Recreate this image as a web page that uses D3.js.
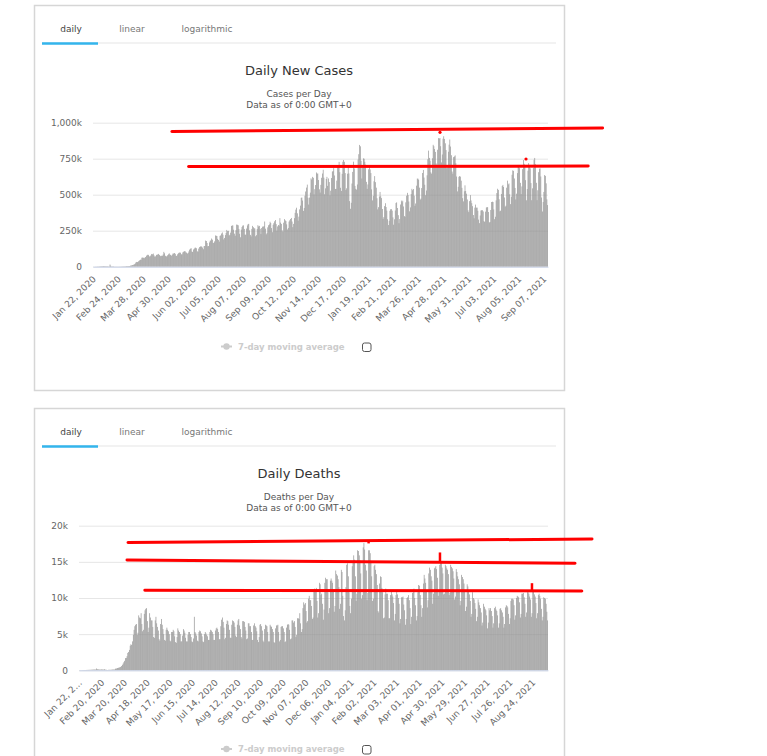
<!DOCTYPE html>
<html>
<head>
<meta charset="utf-8">
<script src="https://cdn.jsdelivr.net/npm/d3@7"></script>
<style>
  body { margin: 0; background: #fff; }
  svg { display: block; font-family: "DejaVu Sans", sans-serif; }
</style>
</head>
<body>
<svg id="chart" width="767" height="756"></svg>
<script>
// daily new cases, thousands (Jan 22 2020 .. Dec 31 2020)
const cases2020 = [
  0.6,0.1,0.3,0.7,0.7,0.8,1.8,1.3,1.8,2.1,
  2.6,2.8,3.2,3.9,3.7,3.2,3.4,2.7,3.0,2.5,2.1,2.0,15.1,6.5,2.1,2.1,2.0,1.9,0.6,0.6,1.0,0.5,0.8,0.6,0.9,0.9,1.2,1.4,1.8,
  1.8,2.0,2.3,2.4,2.8,3.9,3.9,4.0,3.8,4.5,7.5,7.8,10.9,11.7,13.9,16.5,19.7,28.5,33.0,31.9,33.4,40.0,44.3,48.5,48.2,62.5,63.6,62.4,58.8,63.0,67.6,
  76.1,80.4,83.8,80.1,71.3,73.1,79.4,88.5,86.6,91.2,79.2,70.4,72.0,80.9,84.1,84.3,88.9,82.2,76.0,73.1,76.3,75.9,84.7,103.0,93.1,76.0,71.5,71.4,79.5,86.1,
  92.9,85.3,81.0,76.8,83.3,91.5,91.4,95.0,89.4,76.7,74.5,86.1,93.2,96.7,98.6,97.1,86.1,85.6,99.3,104.3,107.3,107.7,99.9,97.4,91.1,95.3,106.0,118.9,125.1,127.9,105.9,
  102.1,119.5,124.7,131.5,132.2,128.1,107.0,104.0,125.8,136.3,140.1,141.3,139.5,132.7,121.5,143.3,143.7,181.4,178.4,164.8,141.7,143.6,168.8,180.1,182.8,195.6,187.7,164.4,166.5,176.2,
  217.1,214.8,213.3,193.2,185.6,174.2,214.3,217.5,230.4,237.9,222.0,189.5,199.6,219.4,234.6,255.5,247.2,249.2,216.5,221.5,237.2,283.0,285.7,287.0,256.9,229.7,215.1,253.6,292.5,291.2,287.7,
  262.1,228.5,204.5,257.5,275.4,285.1,287.3,262.3,223.6,221.4,265.1,286.3,295.4,297.6,252.3,221.1,210.5,262.5,283.5,274.4,266.7,265.6,211.4,219.2,262.1,288.2,279.8,283.4,262.7,226.6,268.6,
  278.1,277.9,281.7,313.9,264.0,225.2,235.3,273.3,288.1,293.5,312.3,303.5,268.3,239.7,291.0,302.0,315.2,324.1,296.0,250.8,279.9,289.3,285.6,337.2,306.1,297.3,252.3,243.5,305.7,330.6,
  321.9,316.6,294.2,258.8,269.0,313.2,322.2,331.3,338.6,313.6,274.6,297.4,337.1,373.9,396.4,409.7,370.7,319.8,347.6,397.8,424.0,478.3,480.1,459.4,387.6,407.9,492.9,522.4,549.3,570.0,479.0,
  431.9,479.9,514.3,613.6,605.3,623.9,617.4,502.3,538.3,567.0,654.4,645.6,647.3,601.9,537.4,514.7,568.3,617.5,647.1,673.0,618.4,503.0,544.1,609.2,624.0,561.3,612.8,587.7,495.7,527.9,
  615.8,660.8,663.6,685.2,633.4,539.8,540.2,597.9,692.3,697.1,728.0,656.4,548.1,526.2,644.9,728.7,741.1,728.4,650.2,532.4,544.3,645.8,701.3,647.8,455.4,402.3,444.0,577.6,658.5,729.4,682.8
];
// daily new cases, thousands (Jan 1 2021 .. Sep 12 2021)
const cases2021 = [
  561.2,540.5,535.1,571.0,744.2,781.3,845.7,836.1,735.5,612.6,690.2,752.5,749.6,728.5,708.8,589.3,540.7,571.4,676.3,695.8,675.1,650.3,537.2,460.3,492.0,593.4,629.1,587.1,548.9,475.3,398.1,
  413.4,487.0,519.2,489.0,476.5,400.8,331.5,343.9,420.8,440.7,414.5,389.5,329.5,289.3,318.8,388.0,398.9,399.7,389.4,342.7,291.7,329.2,390.4,442.1,446.9,407.7,357.8,301.9,
  331.0,432.0,459.1,448.0,458.3,418.3,351.4,346.6,446.8,493.3,512.9,497.3,452.8,384.7,411.8,504.4,541.0,531.1,539.2,493.1,422.9,439.1,562.6,611.8,611.5,604.1,549.1,466.3,473.3,546.1,650.8,
  672.1,619.0,569.1,496.6,529.1,634.6,746.2,806.1,755.6,736.3,655.4,646.3,753.1,846.5,836.8,817.3,797.3,716.6,696.7,812.2,893.1,889.3,893.7,836.8,724.2,779.1,888.8,905.7,887.2,856.9,
  810.0,684.5,690.6,798.2,847.7,883.1,834.5,774.0,660.7,645.7,761.0,765.6,773.0,718.4,626.2,522.9,554.8,623.9,629.4,625.7,597.4,547.7,476.2,453.7,523.8,565.0,525.9,507.2,466.8,391.4,379.3,
  455.2,497.2,459.9,441.2,420.4,358.8,336.4,410.1,431.3,410.0,410.3,388.4,327.1,302.5,355.6,390.1,392.4,392.5,383.8,316.9,311.2,382.4,410.2,414.6,412.9,379.7,307.1,310.8,393.9,449.3,
  451.6,449.0,397.8,330.0,346.9,460.6,511.5,541.3,533.5,468.2,384.5,389.2,505.2,560.5,568.1,553.6,480.8,416.9,423.8,548.6,597.6,571.8,578.3,503.1,434.6,485.3,638.6,669.0,665.4,612.7,546.9,
  467.0,507.1,650.1,706.5,705.2,684.5,582.3,504.4,557.4,677.4,740.8,714.5,693.3,601.2,461.3,539.4,667.1,719.3,694.2,683.3,580.8,461.7,544.1,684.9,742.7,755.3,711.8,582.7,462.1,530.8,656.3,
  680.2,682.6,626.7,480.4,383.4,449.6,519.4,636.1,630.8,578.9,467.7,428.0
];
// daily deaths, thousands (Jan 22 2020 .. Dec 31 2020)
const deaths2020 = [
  0.02,0.01,0.02,0.01,0.03,0.03,0.03,0.04,0.04,0.05,
  0.05,0.06,0.06,0.07,0.07,0.07,0.09,0.09,0.1,0.11,0.1,0.1,0.25,0.14,0.14,0.11,0.1,0.1,0.12,0.12,0.1,0.1,0.15,0.08,0.08,0.06,0.04,0.06,0.07,
  0.07,0.07,0.08,0.1,0.1,0.11,0.11,0.23,0.2,0.28,0.32,0.35,0.37,0.44,0.47,0.6,0.75,0.93,1.12,1.31,1.69,1.7,1.95,2.4,2.54,2.82,3.4,3.6,3.5,4.0,4.9,
  5.6,6.1,6.3,6.4,4.9,5.2,7.6,7.3,7.2,7.9,6.4,5.4,5.6,7.8,8.3,8.5,8.6,6.8,5.3,5.9,7.9,7.3,6.9,6.9,6.0,4.6,4.5,6.9,7.4,6.5,
  6.0,5.5,4.3,4.1,6.4,7.1,6.3,5.7,5.0,4.2,4.1,5.6,5.9,5.6,5.4,5.0,4.1,4.0,5.3,5.3,5.6,5.4,4.7,3.9,3.8,4.6,5.8,5.5,5.3,5.0,4.0,
  4.0,4.8,5.7,5.5,5.2,4.5,4.0,4.0,4.9,5.3,5.3,5.0,4.6,4.0,3.9,4.4,7.4,5.3,5.1,4.8,4.1,4.0,5.3,5.5,5.4,5.1,4.7,4.0,3.9,5.0,
  5.3,5.1,4.9,4.7,4.2,4.2,5.3,5.6,5.5,5.3,5.0,4.2,4.2,5.5,5.8,5.9,5.7,5.3,4.3,4.3,6.1,7.0,7.3,6.7,5.9,4.3,4.5,6.4,6.9,6.8,6.3,
  5.6,4.5,4.5,6.3,6.9,6.8,6.6,6.0,4.8,4.6,6.3,6.9,7.1,6.2,5.7,4.6,4.4,6.8,6.8,6.7,6.0,5.5,4.3,4.4,6.5,6.5,6.1,6.1,5.3,4.2,4.2,
  6.2,6.5,6.1,5.9,5.4,4.2,3.9,4.6,6.3,6.4,6.1,5.5,4.1,3.9,5.7,6.3,6.2,6.1,5.3,4.0,4.0,6.3,6.1,6.0,5.7,5.3,3.9,3.8,5.8,6.2,
  6.2,6.3,5.3,4.0,4.2,6.0,6.1,6.1,5.8,5.3,3.9,4.0,5.9,6.3,6.4,6.3,5.6,4.3,4.4,6.9,6.9,6.6,6.8,6.0,4.6,4.9,7.2,7.2,7.1,7.9,6.5,
  5.3,5.7,8.6,9.4,9.1,9.3,8.2,6.6,6.8,9.9,10.3,9.7,9.7,8.9,7.1,7.3,11.0,11.3,11.0,11.4,9.6,7.3,7.9,12.1,11.9,10.4,10.6,9.2,7.0,8.4,
  12.1,12.8,12.6,12.6,10.8,7.9,8.6,12.4,12.7,12.4,12.1,11.0,8.1,8.9,13.8,13.3,13.1,12.6,11.5,8.5,9.2,13.9,13.6,10.3,7.5,6.9,8.3,11.5,14.6,14.8,13.0
];
// daily deaths, thousands (Jan 1 2021 .. Sep 12 2021)
const deaths2021 = [
  10.8,8.9,7.9,9.9,14.4,15.1,15.9,15.3,13.0,9.6,10.6,16.6,16.5,15.9,15.2,13.4,9.9,10.4,17.0,17.6,16.7,14.6,13.8,9.7,10.7,16.6,16.6,16.2,15.1,13.0,9.6,
  9.9,14.4,14.6,13.9,13.3,11.8,8.2,8.0,12.0,13.0,12.9,11.4,10.8,7.2,7.3,10.5,11.3,10.6,10.6,9.7,7.2,7.2,10.4,11.0,10.5,10.2,9.3,6.9,
  7.8,10.4,11.1,10.5,10.0,9.2,6.5,7.1,10.1,10.1,10.2,9.1,8.3,6.3,7.1,10.0,10.1,10.4,9.7,8.6,6.4,7.4,10.7,10.8,11.3,10.0,9.0,6.9,7.5,10.8,11.8,
  11.7,10.4,9.0,7.4,8.6,12.0,13.2,12.7,12.1,11.0,8.7,9.7,13.4,14.2,13.9,13.0,12.4,9.2,10.6,14.1,14.2,14.4,14.0,12.8,10.3,11.0,14.6,15.1,15.0,14.2,
  13.4,10.5,10.6,14.6,14.4,14.1,13.9,13.3,10.4,10.7,14.6,14.3,14.1,13.7,12.7,9.8,10.2,14.0,13.6,13.0,12.6,11.9,9.0,9.6,13.2,12.9,12.6,12.0,11.0,8.2,8.8,
  11.9,11.6,11.0,10.5,9.6,7.4,7.8,10.8,10.0,9.8,9.3,8.5,6.8,7.4,9.8,9.4,9.0,8.6,8.0,6.2,6.6,9.2,8.8,8.5,8.3,7.6,5.8,6.6,8.6,8.3,
  8.6,8.2,7.5,5.9,6.5,8.6,8.8,8.4,8.2,7.6,5.9,6.5,8.5,8.6,8.3,8.0,7.4,5.9,6.4,8.7,9.0,8.9,8.7,7.8,6.4,7.2,9.6,9.9,9.9,9.8,9.0,
  7.0,7.6,10.0,10.3,10.2,10.1,9.4,7.3,7.8,10.6,10.6,10.7,10.1,9.2,7.4,8.0,10.8,10.8,10.6,10.2,9.8,7.4,7.9,11.0,11.1,10.5,10.2,9.3,7.2,7.9,10.4,
  10.6,10.3,9.9,8.5,6.9,7.4,10.1,10.0,9.9,9.2,8.1,6.9
];

const tabs = ["daily", "linear", "logarithmic"];
const casesYTicks = [0, 250, 500, 750, 1000];
const deathsYTicks = [0, 5, 10, 15, 20];
const casesXLabels = ["Jan 22, 2020","Feb 24, 2020","Mar 28, 2020","Apr 30, 2020","Jun 02, 2020","Jul 05, 2020",
  "Aug 07, 2020","Sep 09, 2020","Oct 12, 2020","Nov 14, 2020","Dec 17, 2020","Jan 19, 2021","Feb 21, 2021",
  "Mar 26, 2021","Apr 28, 2021","May 31, 2021","Jul 03, 2021","Aug 05, 2021","Sep 07, 2021"];
const deathsXLabels = ["Jan 22, 2020","Feb 20, 2020","Mar 20, 2020","Apr 18, 2020","May 17, 2020","Jun 15, 2020",
  "Jul 14, 2020","Aug 12, 2020","Sep 10, 2020","Oct 09, 2020","Nov 07, 2020","Dec 06, 2020","Jan 04, 2021",
  "Feb 02, 2021","Mar 03, 2021","Apr 01, 2021","Apr 30, 2021","May 29, 2021","Jun 27, 2021","Jul 26, 2021","Aug 24, 2021"];

// hand-drawn red marks, in [day index, value] units
const casesRedLines = [[[104, 939], [672, 963]], [[126, 696], [653, 699]]];
const casesRedDots = [[457.6, 933], [571, 748]];
const deathsRedLines = [[[62.7, 17.68], [656.3, 18.16]], [[61.4, 15.26], [634.6, 14.8]], [[84.2, 11.07], [643.3, 10.97]]];
const deathsRedTicks = [[461.8, 15.0, 16.3], [579.5, 11.1, 12.05], [370.5, 17.55, 17.85]];

const startDay = new Date(Date.UTC(2020, 0, 22));
const parseLabel = d3.utcParse("%b %d, %Y");

const svg = d3.select("#chart");

function drawPanel(cfg) {
  const g = svg.append("g");
  const N = cfg.values.length;

  // frame
  g.append("rect")
    .attr("x", 34.5).attr("y", cfg.top + 0.5)
    .attr("width", 530).attr("height", cfg.height)
    .attr("fill", "#fff").attr("stroke", "#d6d6d6").attr("stroke-width", 1.5);

  // tabs
  g.append("line")
    .attr("x1", 42).attr("x2", 556).attr("y1", cfg.top + 38).attr("y2", cfg.top + 38)
    .attr("stroke", "#eeeeee").attr("stroke-width", 1.5);
  g.append("line")
    .attr("x1", 42).attr("x2", 98).attr("y1", cfg.top + 38.5).attr("y2", cfg.top + 38.5)
    .attr("stroke", "#33b5ec").attr("stroke-width", 2.5);
  const tabX = [71, 132, 207];
  g.selectAll("text.tab")
    .data(tabs)
    .enter()
    .append("text")
    .classed("tab", true)
    .attr("x", (d, i) => tabX[i])
    .attr("y", cfg.top + 26.5)
    .attr("text-anchor", "middle")
    .attr("font-size", 9)
    .attr("fill", (d, i) => i === 0 ? "#444" : "#777")
    .text(d => d);

  // titles
  g.append("text").attr("x", 299).attr("y", cfg.top + 69.5)
    .attr("text-anchor", "middle").attr("font-size", 13).attr("fill", "#333")
    .text(cfg.title);
  g.append("text").attr("x", 299).attr("y", cfg.top + 92)
    .attr("text-anchor", "middle").attr("font-size", 9).attr("fill", "#555")
    .text(cfg.subtitle);
  g.append("text").attr("x", 299).attr("y", cfg.top + 103)
    .attr("text-anchor", "middle").attr("font-size", 9).attr("fill", "#555")
    .text("Data as of 0:00 GMT+0");

  const p = cfg.plot;
  const x = d3.scaleBand().domain(d3.range(N)).range([p.left, p.right]).paddingInner(0.15).paddingOuter(0);
  const xDay = d3.scaleLinear().domain([0, N]).range([p.left, p.right]);
  const y = d3.scaleLinear().domain([0, d3.max(cfg.yTicks)]).range([p.bottom, p.top]);

  // y axis with grid
  const yAxis = g.append("g")
    .attr("transform", `translate(${p.left},0)`)
    .call(d3.axisLeft(y).tickValues(cfg.yTicks).tickSize(-(p.right - p.left)).tickPadding(11)
      .tickFormat(d => d === 0 ? "0" : d3.format(",")(d) + "k"));
  yAxis.select(".domain").remove();
  yAxis.selectAll("line").attr("stroke", "#e6e6e6");
  yAxis.selectAll("text").attr("font-size", 9).attr("fill", "#666").attr("font-family", "DejaVu Sans");

  // bars
  g.append("g")
    .selectAll("rect.bar")
    .data(cfg.values)
    .enter()
    .append("rect")
    .classed("bar", true)
    .attr("x", (d, i) => x(i))
    .attr("y", d => y(d))
    .attr("width", x.bandwidth())
    .attr("height", d => y(0) - y(d))
    .attr("fill", "#8e8e8e");

  // x axis
  const tickIdx = cfg.xLabels.map(s => d3.utcDay.count(startDay, parseLabel(s)));
  const labelOf = new Map(tickIdx.map((t, i) => [t, cfg.xLabels[i]]));
  const xAxis = g.append("g")
    .attr("transform", `translate(0,${p.bottom})`)
    .call(d3.axisBottom(x).tickValues(tickIdx).tickSize(0)
      .tickFormat(t => {
        const s = labelOf.get(t);
        return (cfg.truncateFirst && t === 0) ? s.slice(0, 9) + "\u2026" : s;
      }));
  xAxis.select(".domain").attr("stroke", "#ccd6eb");
  xAxis.selectAll("text")
    .attr("font-size", 9).attr("fill", "#666").attr("font-family", "DejaVu Sans")
    .attr("text-anchor", "end")
    .attr("dy", null).attr("y", null)
    .attr("transform", "translate(3,13) rotate(-45)");

  // legend
  const ly = cfg.legendY;
  g.append("line").attr("x1", 221).attr("x2", 232).attr("y1", ly).attr("y2", ly)
    .attr("stroke", "#cccccc").attr("stroke-width", 2);
  g.append("circle").attr("cx", 226.5).attr("cy", ly).attr("r", 3.2).attr("fill", "#cccccc");
  g.append("text").attr("x", 238).attr("y", ly + 3.2)
    .attr("font-size", 8.5).attr("font-weight", "bold").attr("fill", "#cccccc")
    .text("7-day moving average");
  g.append("rect").attr("x", 362.5).attr("y", ly - 3.5).attr("width", 8.5).attr("height", 8.5)
    .attr("rx", 2).attr("fill", "#fff").attr("stroke", "#555").attr("stroke-width", 1);

  // red annotations
  g.append("g")
    .selectAll("line.mark")
    .data(cfg.redLines)
    .enter()
    .append("line")
    .classed("mark", true)
    .attr("x1", d => xDay(d[0][0])).attr("y1", d => y(d[0][1]))
    .attr("x2", d => xDay(d[1][0])).attr("y2", d => y(d[1][1]))
    .attr("stroke", "#ff0000").attr("stroke-width", 3).attr("stroke-linecap", "round");
  g.append("g")
    .selectAll("circle.mark")
    .data(cfg.redDots || [])
    .enter()
    .append("circle")
    .attr("cx", d => xDay(d[0])).attr("cy", d => y(d[1]))
    .attr("r", 1.6).attr("fill", "#ff0000");
  g.append("g")
    .selectAll("line.tick")
    .data(cfg.redTicks || [])
    .enter()
    .append("line")
    .attr("x1", d => xDay(d[0])).attr("x2", d => xDay(d[0]))
    .attr("y1", d => y(d[1])).attr("y2", d => y(d[2]))
    .attr("stroke", "#ff0000").attr("stroke-width", 2.5);
}

drawPanel({
  top: 5, height: 385,
  title: "Daily New Cases", subtitle: "Cases per Day",
  values: cases2020.concat(cases2021),
  yTicks: casesYTicks, xLabels: casesXLabels,
  plot: { left: 93, right: 548, top: 122.7, bottom: 266.7 },
  legendY: 346.5,
  redLines: casesRedLines, redDots: casesRedDots
});

drawPanel({
  top: 408, height: 360,
  title: "Daily Deaths", subtitle: "Deaths per Day",
  values: deaths2020.concat(deaths2021),
  yTicks: deathsYTicks, xLabels: deathsXLabels, truncateFirst: true,
  plot: { left: 79, right: 548, top: 525.7, bottom: 670.3 },
  legendY: 749,
  redLines: deathsRedLines, redTicks: deathsRedTicks
});
</script>
</body>
</html>
